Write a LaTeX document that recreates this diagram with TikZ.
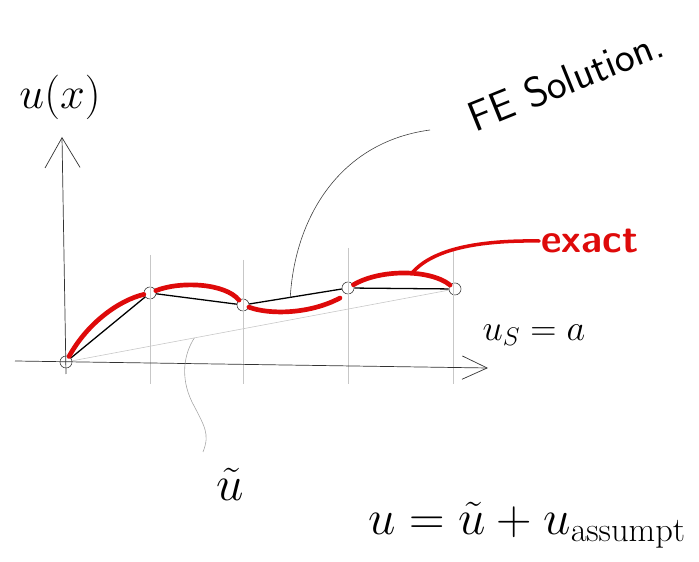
\documentclass[tikz,border=0pt]{standalone}
\usepackage{fix-cm}
\usetikzlibrary{arrows.meta,calc}
\definecolor{exactred}{RGB}{222,10,10}
\begin{document}
\begin{tikzpicture}[x=0.03cm,y=0.03cm,
  knot/.style={draw=black!75, circle, line width=0.5pt, minimum size=0.36cm, inner sep=0pt},
  exactline/.style={exactred, line width=4pt, line cap=round},
  fe/.style={black, line width=1.1pt},
  guide/.style={black!22, line width=0.5pt},
  axis/.style={black!80, line width=0.6pt},
  leader/.style={black!75, line width=0.5pt}]

\useasboundingbox (0,0) rectangle (699,562);

% nodal points
\node[knot] (O) at (66,200) {};
\node[knot] (N1) at (150,269) {};
\node[knot] (N2) at (243,257) {};
\node[knot] (N3) at (348,274) {};
\node[knot] (N4) at (455,273) {};

% grid lines
\foreach \gx/\gtop in {150/307, 243/302, 348/314, 453/312}
  \draw[guide] (\gx,\gtop) -- (\gx,178);

% axes
\draw[axis, -{Straight Barb[length=0.9cm,width=1.05cm]}] (66,188) -- (62,425);
\draw[axis, -{Straight Barb[length=0.75cm,width=0.7cm]}] (15,201) -- (488,194);

% assumed part and FE solution
\draw[guide] (O) -- (N4);
\draw[fe] (O) -- (N1) -- (N2) -- (N3) -- (N4);

% exact solution
\draw[exactline] (O) .. controls (88,240) and (120,262) .. (N1);
\draw[exactline] (N1) .. controls (180,281) and (225,279) .. (N2);
\draw[exactline] (N2) .. controls (270,247) and (310,248) .. (340,264);
\draw[exactline] (N3) .. controls (380,293) and (430,293) .. (N4);

% labels
\node[font=\fontsize{38}{38}\selectfont] (ux) at (60,465) {$u(x)$};
\node[font=\sffamily\fontsize{36}{36}\selectfont, rotate=22] (fetxt) at (566,482) {FE Solution.};
\node[font=\sffamily\bfseries\fontsize{34}{34}\selectfont, text=exactred, inner sep=2pt] (exact) at (590,321) {exact};
\node[font=\fontsize{31}{31}\selectfont] (us) at (534,227) {$u_S = a$};
\node[font=\fontsize{42}{42}\selectfont] (ut) at (230,78) {$\tilde{u}$};
\node[font=\fontsize{42}{42}\selectfont] (eq) at (527,37) {$u = \tilde{u} + u_{\mathrm{assumpt}}$};

% leaders
\coordinate (fe) at ($(N2)!0.45!(N3)$);
\coordinate (fetip) at (430,432);
\draw[leader] (fe) .. controls (295,345) and (340,420) .. (fetip);

\coordinate (ex) at (412,289);
\draw[exactline, line width=3pt] (ex) .. controls (430,310) and (470,322) .. (exact.west);

\coordinate (ua) at ($(O)!0.33!(N4)$);
\coordinate (uatip) at (203,110);
\draw[leader, black!35] (ua) .. controls (184,208) and (180,185) .. (192,160)
  .. controls (205,135) and (210,128) .. (uatip);
\end{tikzpicture}
\end{document}
